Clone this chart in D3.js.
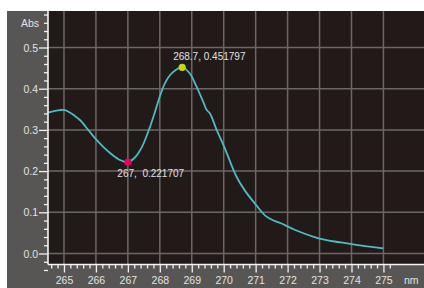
<!DOCTYPE html>
<html><head><meta charset="utf-8">
<script src="https://cdn.jsdelivr.net/npm/d3@7"></script>
<style>html,body{margin:0;padding:0;background:#fff;}svg{display:block;}text{white-space:pre;}</style>
</head><body>
<script>
const wavelength = [264.5, 264.87, 265.03, 265.34, 265.5, 265.76, 265.97, 266.23, 266.49, 266.75, 267.0, 267.22, 267.43, 267.64, 267.85, 268.0, 268.16, 268.37, 268.7, 268.94, 269.15, 269.36, 269.47, 269.57, 269.78, 270.0, 270.41, 270.67, 270.99, 271.3, 271.56, 271.77, 272.24, 272.97, 274.01, 275.0];
const absorbance = [0.342, 0.348, 0.348, 0.334, 0.324, 0.300, 0.280, 0.259, 0.241, 0.227, 0.2217, 0.233, 0.257, 0.296, 0.344, 0.381, 0.413, 0.437, 0.4518, 0.437, 0.405, 0.368, 0.348, 0.340, 0.300, 0.262, 0.185, 0.152, 0.120, 0.092, 0.080, 0.074, 0.057, 0.037, 0.023, 0.0126];
const xTicks = [265, 266, 267, 268, 269, 270, 271, 272, 273, 274, 275];
const yTicks = [0.0, 0.1, 0.2, 0.3, 0.4, 0.5];
const markers = [
  {x: 267, y: 0.221707, label: "267,  0.221707", color: "#e8005e"},
  {x: 268.7, y: 0.451797, label: "268.7, 0.451797", color: "#c6dc00"}
];

const W = 424, H = 288;
const svg = d3.select("body").append("svg").attr("width", W).attr("height", H);
const font = "'Liberation Sans', Arial, sans-serif";
const txt = "#e2e2e2";

// gray panel
svg.append("rect").attr("x", 7).attr("y", 11).attr("width", W - 7).attr("height", H - 11).attr("fill", "#585654");
const L = 48, R = 424, T = 11, B = 264.5;
svg.append("rect").attr("x", L).attr("y", T).attr("width", R - L).attr("height", B - T).attr("fill", "#221a18");

const x = d3.scaleLinear().domain([264.5, 276.27]).range([L, R]);
const y = d3.scaleLinear().domain([-0.0267, 0.5886]).range([B, T]);

// grid
const g = svg.append("g");
g.selectAll(".vg").data(xTicks).join("line")
  .attr("x1", d => x(d)).attr("x2", d => x(d)).attr("y1", T).attr("y2", B)
  .attr("stroke", "#6c6764").attr("stroke-width", 1.5);
g.selectAll(".hg").data(yTicks).join("line")
  .attr("x1", L).attr("x2", R).attr("y1", d => y(d)).attr("y2", d => y(d))
  .attr("stroke", "#6c6764").attr("stroke-width", 1.5);

// curve
const line = d3.line().x((d, i) => x(wavelength[i])).y((d, i) => y(absorbance[i])).curve(d3.curveCatmullRom.alpha(0.5));
svg.append("path").datum(absorbance).attr("d", line).attr("fill", "none")
  .attr("stroke", "#4cbcc2").attr("stroke-width", 1.8);

// axes
const yAxis = d3.axisLeft(y).tickValues(yTicks).tickSize(9).tickFormat(d3.format(".1f"));
const yMinor = d3.range(-2, 30, 1).map(i => i * 0.02).filter(v => Math.abs(v * 10 - Math.round(v * 10)) > 1e-6);
const yAxisMinor = d3.axisLeft(y).tickValues(yMinor).tickSize(4).tickFormat("");
const xAxis = d3.axisBottom(x).tickValues(xTicks).tickSize(8).tickFormat(d3.format("d"));
const xMinor = d3.range(1323, 1377, 1).map(i => i * 0.2).filter(v => Math.abs(v - Math.round(v)) > 1e-6);
const xAxisMinor = d3.axisBottom(x).tickValues(xMinor).tickSize(4).tickFormat("");

function style(sel) {
  sel.select(".domain").remove();
  sel.selectAll("line").attr("stroke", "#f2f2f2").attr("stroke-width", 1.3);
  sel.selectAll("text").attr("fill", txt).style("font-family", font).style("font-size", "10.5px");
}
svg.append("g").attr("transform", `translate(${L},0)`).call(yAxisMinor).call(style);
svg.append("g").attr("transform", `translate(${L},0)`).call(yAxis).call(style)
  .selectAll("text").attr("x", -10).attr("dy", "0.35em");
svg.append("g").attr("transform", `translate(0,${B})`).call(xAxisMinor).call(style);
svg.append("g").attr("transform", `translate(0,${B})`).call(xAxis).call(style)
  .selectAll("text").attr("y", 12).attr("dy", "0.71em");

// axis lines
svg.append("line").attr("x1", L).attr("x2", L).attr("y1", T).attr("y2", B).attr("stroke", "#f4f4f4").attr("stroke-width", 1.6);
svg.append("line").attr("x1", L).attr("x2", R).attr("y1", B).attr("y2", B).attr("stroke", "#f4f4f4").attr("stroke-width", 1.6);

// axis titles
svg.append("text").attr("x", 39).attr("y", 27).attr("text-anchor", "end").attr("fill", txt)
  .style("font-family", font).style("font-size", "10.5px").text("Abs");
svg.append("text").attr("x", 404).attr("y", 284).attr("fill", txt)
  .style("font-family", font).style("font-size", "10.5px").text("nm");

// markers
svg.selectAll(".mk").data(markers).join("circle")
  .attr("cx", d => x(d.x)).attr("cy", d => y(d.y)).attr("r", 3.6).attr("fill", d => d.color);
svg.selectAll(".ml").data(markers).join("text")
  .attr("x", (d, i) => x(d.x) + (i === 0 ? -10.5 : -9))
  .attr("y", (d, i) => y(d.y) + (i === 0 ? 15 : -7))
  .attr("fill", txt).style("font-family", font).style("font-size", "10px")
  .style("white-space", "pre").attr("xml:space", "preserve").text(d => d.label);
</script>
</body></html>
